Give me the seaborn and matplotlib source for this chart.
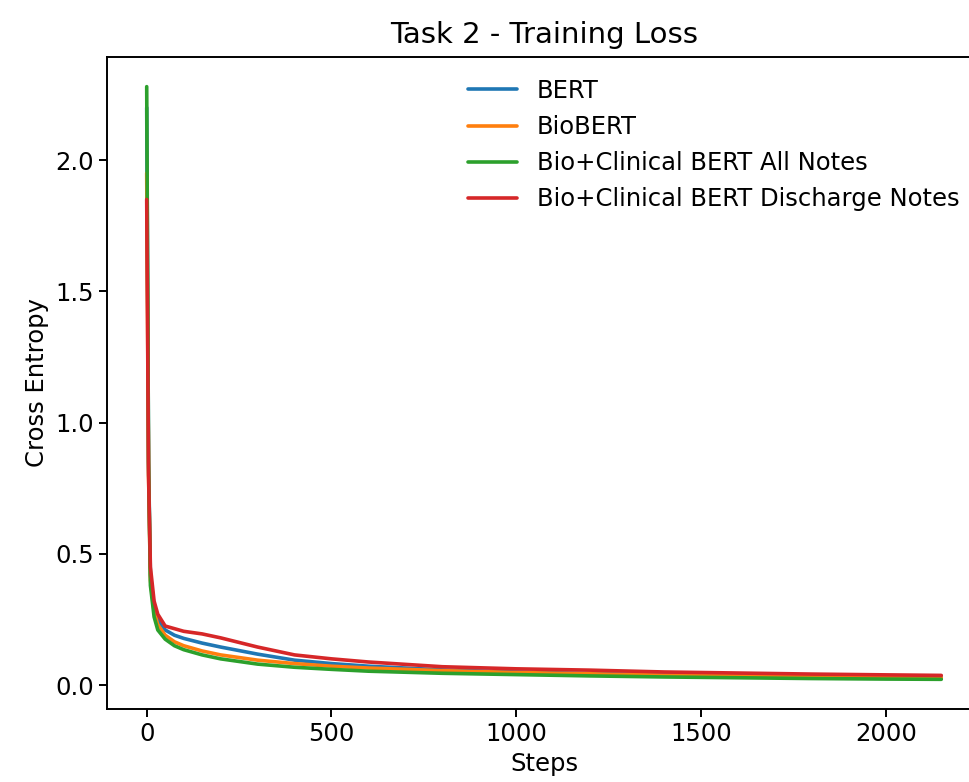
import matplotlib
matplotlib.use("Agg")
import matplotlib.pyplot as plt
import seaborn as sns
import pandas as pd

sns.set_style("ticks")
plt.rcParams['font.family'] = ['DejaVu Sans']
plt.rcParams.update({"text.color": "black", "axes.labelcolor": "black",
                     "xtick.color": "black", "ytick.color": "black"})

# -----------------------------
# Data
# -----------------------------
steps = [0, 5, 10, 20, 30, 50, 75, 100, 150, 200, 300, 400, 500, 600,
         800, 1000, 1200, 1400, 1600, 1800, 2000, 2150]

bert = [2.20, 0.85, 0.42, 0.30, 0.25, 0.21, 0.19, 0.178, 0.160, 0.145, 0.118, 0.095,
        0.082, 0.072, 0.058, 0.050, 0.044, 0.040, 0.036, 0.033, 0.030, 0.029]
biobert = [1.95, 0.80, 0.40, 0.28, 0.23, 0.19, 0.165, 0.150, 0.130, 0.115, 0.095, 0.082,
           0.072, 0.065, 0.055, 0.048, 0.043, 0.038, 0.035, 0.032, 0.030, 0.028]
clin_all = [2.28, 0.85, 0.38, 0.26, 0.21, 0.175, 0.150, 0.135, 0.115, 0.100, 0.080, 0.068,
            0.060, 0.053, 0.045, 0.040, 0.035, 0.031, 0.028, 0.025, 0.023, 0.022]
clin_dis = [1.85, 0.80, 0.45, 0.32, 0.27, 0.225, 0.215, 0.205, 0.195, 0.180, 0.145, 0.115,
            0.100, 0.088, 0.070, 0.062, 0.057, 0.050, 0.046, 0.042, 0.039, 0.037]

models = ["BERT", "BioBERT", "Bio+Clinical BERT All Notes", "Bio+Clinical BERT Discharge Notes"]
series = [bert, biobert, clin_all, clin_dis]

rows = []
for name, vals in zip(models, series):
    for s, v in zip(steps, vals):
        rows.append({"Steps": s, "Cross Entropy": v, "Model": name})
df = pd.DataFrame(rows)

palette = ["#1f77b4", "#ff7f0e", "#2ca02c", "#d62728"]

# -----------------------------
# Plot
# -----------------------------
fig = plt.figure(figsize=(9.69, 7.82), dpi=100)
ax = fig.add_axes([0.1104, 0.0934, 0.902, 0.8337])

sns.lineplot(data=df, x="Steps", y="Cross Entropy", hue="Model", hue_order=models,
             palette=palette, linewidth=2.6, ax=ax)

fs = 17.5
ax.set_title("Task 2 - Training Loss", fontsize=21, pad=10)
ax.set_xlabel("Steps", fontsize=fs)
ax.set_ylabel("Cross Entropy", fontsize=fs)
ax.set_xticks([0, 500, 1000, 1500, 2000])
ax.set_yticks([0.0, 0.5, 1.0, 1.5, 2.0])
ax.tick_params(labelsize=fs, length=6, width=1.4)
for sp in ax.spines.values():
    sp.set_linewidth(1.4)
    sp.set_color("black")

leg = ax.legend(loc="upper right", fontsize=fs, frameon=False, title=None)
for line in leg.get_lines():
    line.set_linewidth(2.6)

fig.savefig("out.png", dpi=100)
